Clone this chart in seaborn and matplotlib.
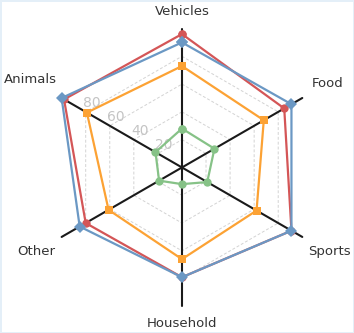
import numpy as np
import pandas as pd
import seaborn as sns
import matplotlib.pyplot as plt

categories = ['Vehicles', 'Food', 'Sports', 'Household', 'Other', 'Animals']
series_names = ['Green', 'Orange', 'Red', 'Blue']
green_values = [28, 27, 21, 12, 19, 22]
orange_values = [73, 68, 62, 66, 61, 79]
red_values = [96, 85, 91, 79, 80, 98]
blue_values = [90, 91, 91, 79, 85, 100]
ring_ticks = [20, 40, 60, 80]

colors = {'Green': '#86c287', 'Orange': '#fca234', 'Red': '#d45657', 'Blue': '#6b98c4'}
markers = {'Green': 'o', 'Orange': 's', 'Red': 'o', 'Blue': 'D'}

sns.set_theme(style='white')
plt.rcParams['font.family'] = ['DejaVu Sans']

angles = np.linspace(0, 2 * np.pi, len(categories), endpoint=False)
closed = np.append(angles, 2 * np.pi)

# long table, first value repeated at 2*pi to close each polygon
frames = []
for name, vals in zip(series_names, [green_values, orange_values, red_values, blue_values]):
    frames.append(pd.DataFrame({'series': name, 'angle': closed, 'value': vals + vals[:1]}))
df = pd.concat(frames, ignore_index=True)

fig = plt.figure(figsize=(3.54, 3.33), dpi=100)
fig.patch.set_facecolor('white')
fig.patch.set_edgecolor('#e4eff8')
fig.patch.set_linewidth(2)
ax = fig.add_axes([0.1215, 0.0796, 0.785, 0.835], projection='polar')
ax.set_theta_zero_location('N')
ax.set_theta_direction(-1)
ax.set_ylim(0, 100)
ax.grid(False)
ax.spines['polar'].set_visible(False)
ax.set_xticks([])
ax.set_yticks([])
ax.set_facecolor('none')

# hexagonal rings
for t in ring_ticks:
    ax.plot(closed, [t] * len(closed), color='#d3d3d3', lw=0.7, ls=(0, (3, 2)), zorder=1)

# spokes
for a in angles:
    ax.plot([a, a], [0, 100], color='#1a1a1a', lw=1.5, zorder=2, clip_on=False)

sns.lineplot(data=df, x='angle', y='value', hue='series', style='series',
             hue_order=series_names, style_order=series_names,
             palette=colors, markers=markers, dashes=False, sort=False,
             estimator=None, lw=1.6, markersize=6, markeredgewidth=0,
             legend=False, ax=ax, zorder=3, clip_on=False)
ax.set_xlabel('')
ax.set_ylabel('')

for t in ring_ticks:
    ax.annotate(str(t), (angles[5], t), xytext=(6, 8.6), textcoords='offset pixels',
                ha='center', va='center', fontsize=10, color='#c4c4c4', zorder=2)

label_r = [112.6, 121, 122.6, 112, 121, 126.5]
label_t = np.deg2rad([0, 60.2, 119.7, 180, 240, 300.2])
for name, t, r in zip(categories, label_t, label_r):
    ax.text(t, r, name, ha='center', va='center', fontsize=9.5, color='#333333')

fig.savefig('out.png', dpi=100)
